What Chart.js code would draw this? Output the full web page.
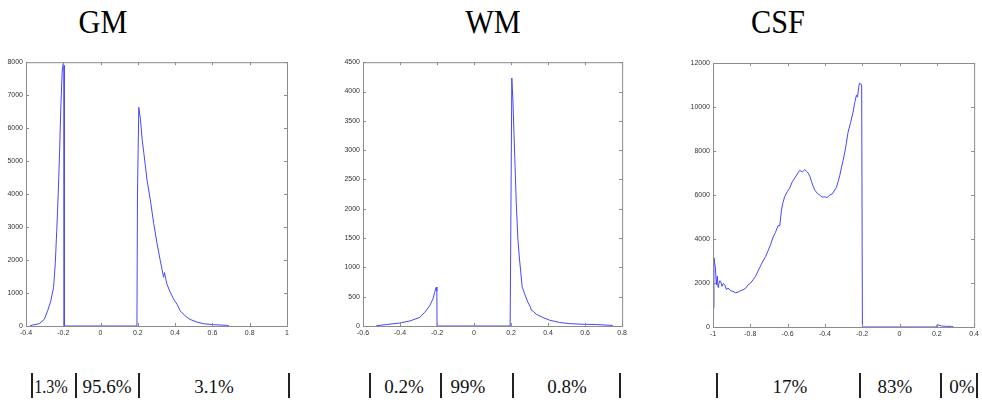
<!DOCTYPE html>
<html>
<head>
<meta charset="UTF-8">
<title>GM WM CSF</title>
<script src="https://cdn.jsdelivr.net/npm/chart.js@4"></script>
<style>
body{margin:0;background:#fff;width:982px;height:402px;position:relative;overflow:hidden;}
.ttl{position:absolute;top:2px;font-family:'Liberation Serif','Times New Roman',serif;font-size:34px;line-height:40px;color:#000;transform:translateX(-50%) scaleX(0.89);white-space:nowrap;}
.pct{position:absolute;top:377px;font-family:'Liberation Serif','Times New Roman',serif;font-size:19px;line-height:20px;color:#111;transform:translateX(-50%);white-space:nowrap;}
.sep{position:absolute;top:373px;width:2px;height:25px;background:#222;}
canvas{position:absolute;}
</style>
</head>
<body>
<canvas id="gmCanvas" width="300" height="290" style="left:0px;top:55px"></canvas>
<canvas id="wmCanvas" width="300" height="290" style="left:330px;top:55px"></canvas>
<canvas id="csfCanvas" width="312" height="290" style="left:670px;top:55px"></canvas>
<script>
// histogram values
const gmX=[-0.38,-0.364,-0.329,-0.302,-0.284,-0.267,-0.252,-0.243,-0.235,-0.227,-0.220,-0.213,-0.206,-0.201,-0.196,-0.195,0.195,0.198,0.205,0.214,0.223,0.232,0.249,0.267,0.285,0.303,0.320,0.338,0.343,0.347,0.356,0.374,0.392,0.410,0.427,0.454,0.480,0.516,0.552,0.605,0.676,0.69];
const gmY=[0,30,70,200,460,760,1170,1890,2900,4030,5250,6680,7690,7950,7900,0,0,4000,6630,6270,5660,5250,4430,3820,3110,2500,1990,1480,1620,1500,1270,1020,815,660,460,305,200,120,70,40,20,0];

const wmX=[-0.528,-0.474,-0.402,-0.348,-0.294,-0.267,-0.240,-0.222,-0.213,-0.204,-0.201,-0.200,0.195,0.204,0.210,0.219,0.228,0.237,0.246,0.260,0.273,0.291,0.305,0.309,0.320,0.336,0.372,0.407,0.462,0.516,0.588,0.660,0.750];
const wmY=[5,25,50,85,145,230,345,460,575,665,600,0,0,4230,3840,2970,2105,1470,1125,665,550,405,320,270,250,200,145,100,60,40,30,25,10];

const csfX=[-0.999,-0.995,-0.991,-0.987,-0.982,-0.977,-0.973,-0.970,-0.964,-0.959,-0.952,-0.945,-0.937,-0.928,-0.920,-0.905,-0.893,-0.880,-0.866,-0.852,-0.839,-0.825,-0.812,-0.799,-0.785,-0.772,-0.759,-0.745,-0.732,-0.718,-0.705,-0.691,-0.678,-0.665,-0.651,-0.642,-0.633,-0.625,-0.616,-0.602,-0.589,-0.575,-0.562,-0.548,-0.535,-0.521,-0.508,-0.499,-0.490,-0.481,-0.472,-0.463,-0.455,-0.441,-0.428,-0.414,-0.401,-0.388,-0.374,-0.361,-0.347,-0.338,-0.329,-0.320,-0.312,-0.303,-0.294,-0.285,-0.276,-0.262,-0.249,-0.240,-0.231,-0.225,-0.219,-0.214,-0.208,-0.203,-0.199,0.195,0.203,0.225,0.250,0.278,0.29];
const csfY=[850,3150,2900,2690,1920,2310,1800,1920,2100,2080,1850,1980,1920,1700,1770,1650,1615,1560,1585,1650,1690,1760,1920,1990,2150,2300,2540,2780,3000,3200,3460,3750,4080,4300,4615,4600,5310,5650,5920,6150,6310,6600,6770,6950,7120,7050,7150,7080,7000,6850,6615,6400,6230,6080,6000,5900,5920,5880,6000,6050,6230,6350,6615,6900,7230,7550,7920,8350,8850,9300,9770,10200,10540,10450,10900,11080,11050,11000,0,0,110,45,30,30,0];

const gmTicks={xMin:-0.4,xMax:1,xStep:0.2,yMin:0,yMax:8000,yStep:1000};
const wmTicks={xMin:-0.6,xMax:0.8,xStep:0.2,yMin:0,yMax:4500,yStep:500};
const csfTicks={xMin:-1,xMax:0.4,xStep:0.2,yMin:0,yMax:12000,yStep:2000};

const titles=[["GM",103],["WM",493],["CSF",778]];
const pctLabels=[["1.3%",51,0.85],["95.6%",107,1],["3.1%",214,1],["0.2%",404,1],["99%",468,1],["0.8%",567,1],["17%",790,1],["83%",895,1],["0%",962,1]];
const separators=[32,76,139,289,370,441,513,620,717,860,941,977];

for(const [t,cx] of titles){
    const d=document.createElement("div");
    d.className="ttl";d.textContent=t;d.style.left=cx+"px";
    document.body.appendChild(d);
}
for(const [t,cx,sx] of pctLabels){
    const d=document.createElement("div");
    d.className="pct";d.textContent=t;d.style.left=cx+"px";
    d.style.transform="translateX(-50%) scaleX("+sx+")";
    document.body.appendChild(d);
}
for(const sx of separators){
    const d=document.createElement("div");
    d.className="sep";d.style.left=(sx-1)+"px";
    document.body.appendChild(d);
}

Chart.defaults.font.family="'Liberation Sans Narrow','Liberation Sans',Arial,sans-serif";
Chart.defaults.font.size=7;
Chart.defaults.color="#333";

// matlab style box with ticks pointing inward
const boxTicks={
    id:"boxTicks",
    afterDraw(chart){
        const {ctx,chartArea:a,scales:{x,y}}=chart;
        ctx.save();
        ctx.strokeStyle="#8c8c8c";
        ctx.lineWidth=1;
        ctx.strokeRect(a.left+0.5,a.top+0.5,a.right-a.left,a.bottom-a.top);
        ctx.beginPath();
        for(const t of x.ticks){
            const px=Math.round(x.getPixelForValue(t.value))+0.5;
            ctx.moveTo(px,a.bottom);ctx.lineTo(px,a.bottom-3);
            ctx.moveTo(px,a.top);ctx.lineTo(px,a.top+3);
        }
        for(const t of y.ticks){
            const py=Math.round(y.getPixelForValue(t.value))+0.5;
            ctx.moveTo(a.left,py);ctx.lineTo(a.left+3,py);
            ctx.moveTo(a.right,py);ctx.lineTo(a.right-3,py);
        }
        ctx.stroke();
        ctx.restore();
    }
};

function makeChart(canvas,xs,ys,tk,yW,xH,padTop,padRight){
    return new Chart(canvas,{
        type:"scatter",
        data:{datasets:[{
            data:xs.map((x,i)=>({x:x,y:ys[i]})),
            showLine:true,
            borderColor:"rgb(70,70,255)",
            borderWidth:1,
            pointRadius:0,
            tension:0
        }]},
        options:{
            responsive:false,
            animation:false,
            devicePixelRatio:1,
            layout:{padding:{top:padTop,right:padRight,left:0,bottom:0}},
            plugins:{legend:{display:false},tooltip:{enabled:false}},
            scales:{
                x:{
                    type:"linear",min:tk.xMin,max:tk.xMax,
                    grid:{display:false,drawTicks:false},
                    border:{display:false},
                    ticks:{stepSize:tk.xStep,autoSkip:false,maxRotation:0,padding:3,
                        callback:v=>String(+v.toFixed(1))},
                    afterFit:s=>{s.height=xH;}
                },
                y:{
                    min:tk.yMin,max:tk.yMax,
                    grid:{display:false,drawTicks:false},
                    border:{display:false},
                    ticks:{stepSize:tk.yStep,autoSkip:false,padding:3,
                        callback:v=>String(Math.round(v))},
                    afterFit:s=>{s.width=yW;}
                }
            }
        },
        plugins:[boxTicks]
    });
}

makeChart(gmCanvas,gmX,gmY,gmTicks,26,19,7,13);
makeChart(wmCanvas,wmX,wmY,wmTicks,33,19,7,7);
makeChart(csfCanvas,csfX,csfY,csfTicks,43,18,8,7);
</script>
</body>
</html>
